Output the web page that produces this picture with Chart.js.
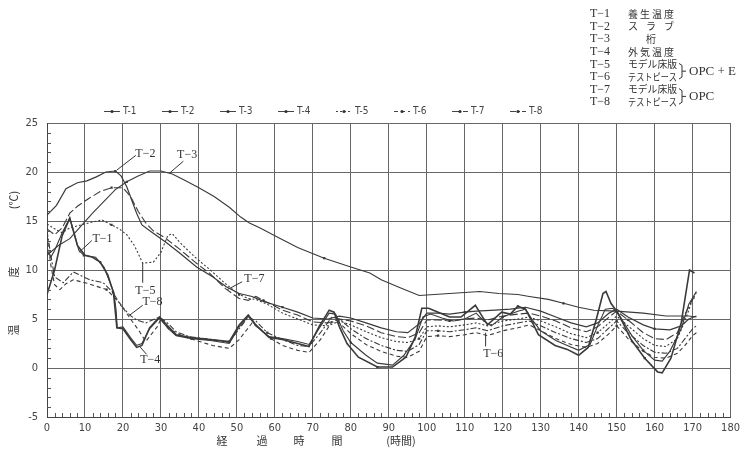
<!DOCTYPE html>
<html>
<head>
<meta charset="utf-8">
<script src="https://cdn.jsdelivr.net/npm/chart.js@4.4.0/dist/chart.umd.min.js"></script>
<style>
html,body{margin:0;padding:0;background:#fff;}
#wrap{position:relative;width:745px;height:453px;}
</style>
</head>
<body>
<div id="wrap"><canvas id="c" width="745" height="453"></canvas></div>
<script>
// ---- data: [hours, temperature] ----
const seriesNames = ['T-1','T-2','T-3','T-4','T-5','T-6','T-7','T-8'];
const xTicks = [0,10,20,30,40,50,60,70,80,90,100,110,120,130,140,150,160,170,180];
const yTicks = [-5,0,5,10,15,20,25];

const T1 = [[0,12.0],[1,11.3],[2,12.0],[4,13.8],[6,15.3],[7,14.0],[8.4,12.0],[9.7,11.5],[12.8,11.3],[15,10.3],[17.6,7.7],[18.2,5.9],[18.5,4.1],[20,4.2],[22,3.1],[23.6,2.3],[25,2.5],[27,4.0],[29.6,5.1],[32,4.0],[34,3.3],[38,3.0],[43,2.8],[48,2.5],[50.6,4.2],[53,5.3],[55,4.3],[58.5,3.2],[62,3.0],[66,2.7],[69,2.4],[71.6,4.0],[74.3,5.6],[76,5.5],[78,3.8],[80,2.6],[84,1.3],[87,0.5],[91,0.3],[94,1.3],[97,3.0],[99,5.2],[101,5.5],[104,5.1],[107,4.8],[110,5.0],[113,5.6],[115,4.8],[117,4.3],[120,5.2],[124,5.8],[126,6.0],[128,4.8],[130,3.8],[134,2.8],[137,2.3],[140,1.8],[143,2.4],[145,4.3],[147,6.0],[149,6.1],[151,5.2],[154,3.3],[157,1.8],[160,0.8],[162,0.7],[164,1.7],[167,4.0],[169,6.5],[171,7.8]];

const T2 = [[0,15.6],[2.5,16.6],[5,18.3],[8,18.9],[10.5,19.1],[13,19.5],[15.5,20],[18,20.1],[19.5,19.6],[21,18.5],[23.6,15.8],[25,14.6],[27.8,13.8],[31.4,12.8],[35,11.7],[39.4,10.3],[43.6,9.3],[47.2,8.3],[50.6,7.6],[54,7.3],[57,6.8],[62,6.2],[66,5.7],[70,5.1],[74,5.0],[77,5.3],[80,5.1],[84,4.6],[88,4.1],[92,3.7],[95,3.6],[98,4.5],[100,5.6],[103,5.6],[106,5.5],[110,5.7],[113,5.8],[118,5.9],[122,6.0],[126,6.2],[130,5.8],[134,5.2],[138,4.6],[142,4.2],[145,4.6],[148,5.6],[150,6.0],[153,5.2],[157,4.4],[160,4.0],[164,3.9],[167,4.3],[169,5.0],[171,5.3]];

const T3 = [[0,11.5],[3,12.5],[6,13.2],[9,14.5],[12,15.8],[15,17.0],[18,18.2],[21,19.0],[24,19.6],[27,20.1],[30,20.1],[33,19.8],[36,19.2],[40,18.4],[44,17.5],[48,16.4],[51,15.4],[53.3,14.8],[56,14.3],[60,13.5],[66,12.3],[73,11.2],[80,10.3],[85,9.7],[88,9.0],[93,8.2],[98,7.4],[102,7.5],[106,7.6],[110,7.7],[114,7.8],[119,7.6],[124,7.5],[127,7.3],[132,7.0],[136,6.6],[140,6.2],[144,5.9],[150,5.8],[157,5.6],[163,5.3],[169,5.3],[171,5.2]];

const T4 = [[0,7.5],[2,10.0],[4,13.5],[6,15.3],[8,12.5],[10,11.5],[12,11.3],[14,10.8],[16,9.5],[17.5,7.7],[18.4,4.1],[20,4.0],[22,2.9],[23.6,2.1],[25,2.3],[27,4.1],[29.6,5.2],[32,4.2],[34,3.4],[38,3.1],[43,2.9],[48,2.7],[50.6,4.4],[53,5.4],[55,4.4],[58.5,3.1],[62,2.9],[66,2.5],[69,2.2],[71.6,4.2],[74.3,5.9],[75.6,5.7],[77,4.2],[79,2.5],[82,1.1],[87,0.1],[91,0.1],[94.5,1.1],[97,3.2],[98.7,6.1],[100.5,6.1],[103,5.7],[106,5.2],[109,5.2],[112.8,6.4],[114.4,5.4],[116,4.4],[119.7,5.7],[122,5.5],[124,6.3],[126,6.0],[128,4.5],[129.4,3.4],[133.8,2.3],[137,1.9],[140,1.3],[142.5,2.1],[144.6,4.9],[146.4,7.6],[147.2,7.8],[148.5,6.6],[150.4,5.6],[153.8,2.9],[157.4,1.0],[160.8,-0.4],[162,-0.5],[164.3,1.0],[167,4.6],[169.2,10.0],[170.5,9.7]];

const T5 = [[0,14.7],[2,14.2],[4,13.8],[6,14.3],[9,14.6],[12,14.9],[14.5,15.1],[17,14.6],[19,14.2],[21,13.6],[23,12.5],[24,11.7],[25.2,10.7],[28,10.8],[30,11.8],[31.8,13.5],[33,13.7],[35,12.8],[39,11.3],[43,10.0],[47,8.6],[50.6,7.5],[53,7.1],[55,7.0],[58,6.5],[62,5.6],[66,5.0],[70,4.4],[74,4.3],[77,4.8],[80,4.4],[84,3.7],[88,3.1],[92,2.7],[95,2.6],[98,3.0],[100,4.2],[103,4.3],[106,4.2],[110,4.4],[113,4.6],[116,4.3],[120,4.8],[124,5.0],[127,5.2],[130,4.8],[134,4.2],[138,3.5],[142,3.1],[145,3.6],[148,4.6],[150,5.3],[153,4.3],[157,3.0],[160,2.3],[163,2.2],[166,3.0],[168,4.8],[170,7.0],[171,7.7]];

const T6 = [[0,13.5],[1,10.5],[2,8.5],[3.4,8.0],[5,8.6],[6.9,9.0],[11,8.6],[15.7,8.0],[19.2,6.6],[22,5.0],[24.4,3.7],[26,2.7],[29,4.2],[30,5.0],[32,4.0],[36,3.2],[43.6,2.3],[48,2.0],[50.6,2.9],[54,4.6],[56,4.0],[59,3.0],[62,2.3],[66,1.8],[69,1.6],[72,2.9],[75,4.7],[77,4.6],[80,3.5],[84,2.4],[88,1.7],[92,1.2],[95,1.1],[98,1.7],[100,3.2],[103,3.3],[106,3.2],[110,3.4],[113,3.6],[116,3.3],[120,3.8],[124,4.1],[127,4.4],[130,3.8],[134,3.0],[138,2.4],[142,2.1],[145,2.5],[148,3.5],[150,4.3],[153,3.0],[157,1.7],[160,1.1],[163,1.0],[166,1.5],[168,2.3],[170,3.3],[171,3.6]];

const T7 = [[0,14.2],[2,13.6],[4,14.3],[6,15.8],[8,16.5],[11,17.3],[14,18.0],[17,18.4],[20,18.4],[22,17.5],[24,16.0],[26,14.8],[28,14.0],[31,13.3],[35,12.1],[39,10.8],[43,9.6],[47,8.1],[50.6,7.1],[53,6.9],[55,7.3],[57,6.9],[62,5.9],[66,5.4],[70,4.7],[74,4.6],[77,5.0],[80,4.8],[84,4.3],[88,3.6],[92,3.2],[95,3.1],[98,3.6],[100,4.9],[103,4.9],[106,4.8],[110,5.0],[113,5.1],[116,4.9],[120,5.3],[124,5.5],[127,5.6],[130,5.3],[134,4.8],[138,4.1],[142,3.7],[145,4.2],[148,5.2],[150,5.8],[153,4.9],[157,3.6],[160,3.0],[163,2.9],[166,3.6],[168,5.5],[170,7.0],[171,7.3]];

const T8 = [[0,14.0],[1,11.5],[2,9.3],[4.3,8.7],[6.9,9.8],[11.3,9.0],[14.8,8.7],[17.4,7.7],[19.4,6.4],[21.8,5.4],[23.6,4.9],[26,4.6],[29.6,5.2],[32,4.5],[34,3.7],[37.5,3.2],[43.6,2.9],[48,2.6],[50.6,4.0],[53,5.2],[55,4.8],[58,3.6],[62,2.9],[66,2.3],[69,2.2],[72,3.6],[75,5.2],[77,5.0],[80,4.0],[84,3.0],[88,2.3],[92,1.8],[95,1.7],[98,2.4],[100,3.8],[103,3.8],[106,3.7],[110,3.9],[113,4.1],[116,3.8],[120,4.3],[124,4.6],[127,4.8],[130,4.3],[134,3.6],[138,3.0],[142,2.6],[145,3.0],[148,4.1],[150,4.8],[153,3.6],[157,2.3],[160,1.6],[163,1.5],[166,2.0],[168,3.0],[170,4.0],[171,4.3]];

const seriesData = [T1,T2,T3,T4,T5,T6,T7,T8];
const dashes = [[],[],[],[],[2,2],[4,3],[8,3],[6,2,2,2]];
const widths = [1.1,1.2,1.1,1.6,1.1,1.1,1.1,1.1];
const lineColor = '#3a3a3a';

// annotation labels: [text, labelT, labelV, leaderFrom[t,v], leaderTo[t,v]]
const notes = [
  ['T−2', 25.9, 21.9, [18.4,20.2], [23.4,21.7]],
  ['T−3', 36.9, 21.8, [32.3,19.9], [35.9,21.1]],
  ['T−1', 14.6, 13.2, [8.4,11.8], [11.8,13.0]],
  ['T−5', 25.9, 7.9, [25.2,10.7], [25.2,8.7]],
  ['T−7', 54.6, 9.1, [47.5,8.0], [51.4,8.8]],
  ['T−8', 27.8, 6.7, [21.8,5.4], [25.2,6.4]],
  ['T−4', 27.2, 0.8, [24.4,2.2], [26.2,1.4]],
  ['T−6', 117.5, 1.4, [115.5,3.6], [115.5,2.2]]
];

const keyRows = [
  ['T−1','養生温度'],['T−2','スラブ'],['T−3','桁'],['T−4','外気温度'],
  ['T−5','モデル床版'],['T−6','テストピース'],['T−7','モデル床版'],['T−8','テストピース']
];

const jp = '"Noto Sans CJK JP", sans-serif';
const serif = '"Liberation Serif", "DejaVu Serif", serif';
const narrow = '"Liberation Sans Narrow", "DejaVu Sans Condensed", "Liberation Sans", sans-serif';

function keyText(ctx, text, x0, x1, y) {
  const chars = Array.from(text);
  if (chars.length === 1) { ctx.textAlign = 'center'; ctx.fillText(text, (x0 + x1) / 2, y); ctx.textAlign = 'left'; return; }
  if (chars.length > 4) { ctx.textAlign = 'left'; ctx.fillText(text, x0, y, 49); return; }
  const w = ctx.measureText(chars[chars.length - 1]).width;
  const step = (x1 - w - x0) / (chars.length - 1);
  chars.forEach((c, i) => ctx.fillText(c, x0 + i * step, y));
}

const deco = {
  id: 'deco',
  afterDraw(chart) {
    const ctx = chart.ctx, xs = chart.scales.x, ys = chart.scales.y;
    const X = t => xs.getPixelForValue(t), Y = v => ys.getPixelForValue(v);
    ctx.save();
    // minor ticks
    ctx.strokeStyle = '#555'; ctx.lineWidth = 1;
    ctx.beginPath();
    for (let v = -5; v <= 25; v++) if (v % 5) { const y = Math.round(Y(v)) + 0.5; ctx.moveTo(xs.left, y); ctx.lineTo(xs.left + 4, y); }
    for (let t = 0; t <= 180; t += 2) if (t % 10) { const x = Math.round(X(t)) + 0.5; ctx.moveTo(x, ys.bottom); ctx.lineTo(x, ys.bottom - 4); }
    ctx.stroke();

    // annotations
    ctx.fillStyle = '#333'; ctx.strokeStyle = '#333'; ctx.lineWidth = 1;
    ctx.font = '12px ' + serif; ctx.textBaseline = 'middle'; ctx.textAlign = 'center';
    notes.forEach(n => {
      ctx.beginPath(); ctx.moveTo(X(n[3][0]), Y(n[3][1])); ctx.lineTo(X(n[4][0]), Y(n[4][1])); ctx.stroke();
      ctx.fillText(n[0], X(n[1]), Y(n[2]));
    });

    // top legend row
    ctx.font = '10px ' + narrow; ctx.textAlign = 'left';
    chart.data.datasets.forEach((ds, i) => {
      const x0 = 104 + i * 58, y = 111.5;
      ctx.setLineDash(ds.borderDash || []); ctx.lineWidth = 1; ctx.strokeStyle = '#444';
      ctx.beginPath(); ctx.moveTo(x0, y); ctx.lineTo(x0 + 16, y); ctx.stroke();
      ctx.setLineDash([]);
      ctx.fillStyle = '#333'; ctx.beginPath(); ctx.arc(x0 + 8, y, 1.6, 0, Math.PI * 2); ctx.fill();
      ctx.fillStyle = '#444'; ctx.fillText(ds.label, x0 + 19, y);
    });

    // top-right key
    ctx.fillStyle = '#333';
    keyRows.forEach((r, i) => {
      const y = 14 + 12.6 * i;
      ctx.font = '12px ' + serif; ctx.textAlign = 'left';
      ctx.fillText(r[0], 590, y);
      ctx.font = '10px ' + jp;
      keyText(ctx, r[1], 628, 674, y);
    });
    ctx.strokeStyle = '#333'; ctx.lineWidth = 1;
    [[4,5,'OPC + E'],[6,7,'OPC']].forEach(b => {
      const y0 = 14 + 12.6 * b[0] - 1, y1 = 14 + 12.6 * b[1] + 2, ym = (y0 + y1) / 2;
      ctx.beginPath();
      ctx.moveTo(679, y0); ctx.lineTo(682, y0 + 2); ctx.lineTo(682, y1 - 2); ctx.lineTo(679, y1);
      ctx.moveTo(682, ym); ctx.lineTo(686, ym);
      ctx.stroke();
      ctx.font = '13px ' + serif; ctx.textAlign = 'left';
      ctx.fillText(b[2], 689, ym);
    });

    // axis titles
    ctx.font = '11px ' + jp; ctx.textAlign = 'center'; ctx.fillStyle = '#333';
    [['経',222],['過',262],['時',299],['間',337],['(時間)',401]].forEach(a => ctx.fillText(a[0], a[1], 441));
    [['温',330],['度',272],['(℃)',200]].forEach(a => {
      ctx.save(); ctx.translate(14, a[1]); ctx.rotate(-Math.PI / 2); ctx.fillText(a[0], 0, 0); ctx.restore();
    });
    ctx.restore();
  }
};

new Chart(document.getElementById('c'), {
  type: 'line',
  data: {
    datasets: seriesData.map((d, i) => ({
      label: seriesNames[i],
      data: d,
      borderColor: lineColor,
      backgroundColor: lineColor,
      borderWidth: widths[i],
      borderDash: dashes[i],
      tension: 0,
      fill: false,
      pointRadius: ctx => (ctx.dataIndex % 14 === 7 ? 1.6 : 0),
      pointHoverRadius: 0,
      pointBorderWidth: 0,
      pointStyle: 'rect'
    }))
  },
  options: {
    responsive: false,
    animation: false,
    events: [],
    layout: { padding: { top: 123, right: 12, bottom: 18, left: 0 } },
    plugins: { legend: { display: false }, tooltip: { enabled: false } },
    scales: {
      x: {
        type: 'linear', min: 0, max: 180,
        afterBuildTicks: s => { s.ticks = xTicks.map(v => ({ value: v })); },
        afterFit: s => { s.height = 18; },
        grid: { color: '#666', lineWidth: 1, drawTicks: false },
        border: { color: '#444', width: 1 },
        ticks: { padding: 5, color: '#444', font: { family: narrow, size: 11 }, maxRotation: 0 }
      },
      y: {
        type: 'linear', min: -5, max: 25,
        afterBuildTicks: s => { s.ticks = yTicks.map(v => ({ value: v })); },
        afterFit: s => { s.width = 47; },
        grid: { color: '#666', lineWidth: 1, drawTicks: false },
        border: { color: '#444', width: 1 },
        ticks: { padding: 9, color: '#444', font: { family: narrow, size: 11 } }
      }
    }
  },
  plugins: [deco]
});
</script>
</body>
</html>
